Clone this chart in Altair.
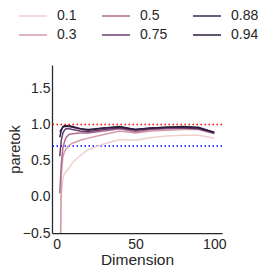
import altair as alt
import pandas as pd

dims = [2, 3, 4, 5, 6, 8, 10, 15, 20, 30, 40, 50, 60, 70, 80, 90, 100]
hues = ["0.1", "0.3", "0.5", "0.75", "0.88", "0.94"]
k_01 = [-3.0, 0.02, 0.25, 0.32, 0.35, 0.40, 0.47, 0.57, 0.65, 0.73, 0.79, 0.78, 0.82, 0.84, 0.85, 0.85, 0.81]
k_03 = [-1.5, 0.30, 0.55, 0.62, 0.66, 0.71, 0.74, 0.78, 0.81, 0.86, 0.91, 0.88, 0.91, 0.92, 0.93, 0.93, 0.87]
k_05 = [0.05, 0.45, 0.68, 0.76, 0.82, 0.86, 0.87, 0.88, 0.88, 0.91, 0.94, 0.90, 0.93, 0.94, 0.95, 0.94, 0.88]
k_075 = [0.56, 0.78, 0.88, 0.92, 0.94, 0.94, 0.93, 0.91, 0.90, 0.93, 0.95, 0.92, 0.94, 0.95, 0.95, 0.94, 0.88]
k_088 = [0.90, 0.93, 0.96, 0.97, 0.97, 0.97, 0.96, 0.94, 0.93, 0.95, 0.96, 0.93, 0.95, 0.96, 0.96, 0.95, 0.89]
k_094 = [0.82, 0.92, 0.97, 0.98, 0.98, 0.98, 0.97, 0.94, 0.92, 0.95, 0.97, 0.93, 0.95, 0.96, 0.97, 0.96, 0.89]
series = [k_01, k_03, k_05, k_075, k_088, k_094]
palette = ["#edd1cb", "#d69ba8", "#af6c91", "#673c6d", "#3f284f", "#2d1e3e"]
ref_values = [1.0, 0.7]
ref_colors = ["red", "blue"]

rows = []
for h, vals in zip(hues, series):
    for d, v in zip(dims, vals):
        rows.append({"Dimension": d, "paretok": v, "alpha": h})
df = pd.DataFrame(rows)
ref_df = pd.DataFrame({"y": ref_values, "c": ref_colors})

font = "Liberation Sans"
tc = "#262626"

xscale = alt.Scale(domain=[-2.9, 104.9], nice=False, zero=False)
yscale = alt.Scale(domain=[-0.5, 1.82], nice=False, zero=False)

lines = alt.Chart(df).mark_line(strokeWidth=1.5, clip=True).encode(
    x=alt.X("Dimension:Q", scale=xscale,
            axis=alt.Axis(values=[0, 50, 100], title="Dimension")),
    y=alt.Y("paretok:Q", scale=yscale,
            axis=alt.Axis(values=[-0.5, 0, 0.5, 1.0, 1.5], format=".1f", title="paretok",
                          labelPadding=2, titlePadding=0, titleFontSize=14.5)),
    color=alt.Color("alpha:N",
                    scale=alt.Scale(domain=hues, range=palette),
                    legend=alt.Legend(title=None)),
    detail="alpha:N",
)

refs = alt.Chart(ref_df).mark_rule(strokeWidth=1.5, strokeDash=[1.5, 2.5]).encode(
    y=alt.Y("y:Q", scale=yscale),
    color=alt.Color("c:N", scale=None),
)

chart = alt.layer(refs, lines).properties(
    width=170, height=168,
    autosize=alt.AutoSizeParams(type="none"),
    padding={"left": 44, "top": 57, "right": 36, "bottom": 35},
).configure_view(stroke=None).configure_axis(
    grid=False, ticks=False, domainColor=tc, domainWidth=1.25,
    labelFont=font, labelFontSize=14, labelColor=tc, labelPadding=4,
    titleFont=font, titleFontSize=15.5, titleFontWeight="normal", titleColor=tc,
).configure_axisX(titlePadding=1).configure_legend(
    orient="none", legendX=-27, legendY=-57, columns=3, padding=0,
    symbolType="M-2,0H2", symbolSize=196, symbolStrokeWidth=1.5,
    labelFont=font, labelFontSize=14, labelColor=tc, labelOffset=16,
    columnPadding=22, rowPadding=4,
)

chart.save("out.html", embed_options={"renderer": "svg", "actions": False})
